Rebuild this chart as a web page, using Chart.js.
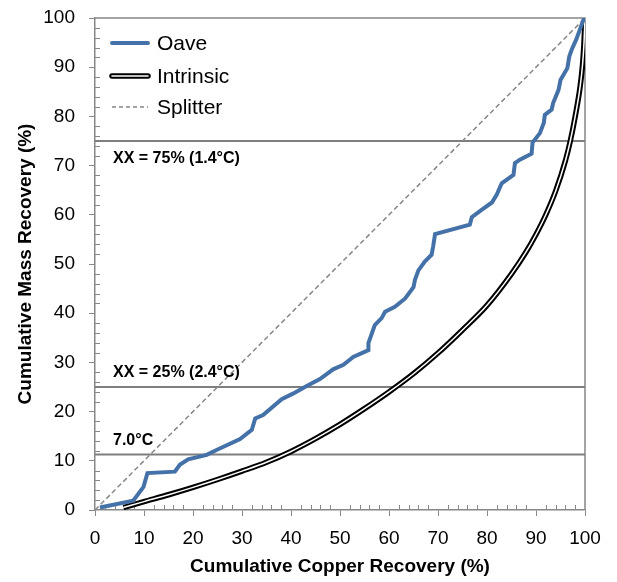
<!DOCTYPE html>
<html lang="en">
  <head>
    <meta charset="UTF-8" />
    <title>Cumulative Mass vs Copper Recovery</title>
    <script src="https://cdn.jsdelivr.net/npm/chart.js"></script>
    <style>
      body { margin: 0; background: #ffffff; }
    </style>
  </head>
  <body>
    <canvas id="recoveryChart" width="617" height="582"></canvas>
    <script>
      // Oave curve: cumulative copper recovery (x) vs cumulative mass recovery (y)
      const oaveCu = [1.0, 7.8, 9.9, 10.7, 16.3, 17.3, 19.0, 22.8, 24.8, 29.6, 32.0, 32.7, 34.3, 38.1, 40.5, 43.2, 45.9, 48.6, 50.7, 52.7, 55.8, 55.8, 57.1, 58.5, 59.2, 61.2, 63.3, 65.0, 65.3, 66.0, 67.3, 68.7, 69.0, 69.4, 76.5, 76.9, 78.9, 81.0, 82.0, 83.0, 85.4, 85.7, 86.7, 89.1, 89.3, 90.8, 91.6, 91.8, 93.2, 93.5, 94.6, 95.0, 96.4, 96.8, 97.3, 98.2, 99.7, 100];
      const oaveMass = [0.5, 1.9, 4.7, 7.5, 7.8, 9.2, 10.3, 11.2, 12.2, 14.4, 16.3, 18.6, 19.3, 22.5, 23.7, 25.2, 26.6, 28.6, 29.5, 31.1, 32.5, 33.9, 37.6, 39.0, 40.3, 41.3, 43.0, 45.3, 46.8, 48.7, 50.5, 51.9, 53.5, 56.1, 58.0, 59.5, 61.0, 62.5, 64.1, 66.4, 68.1, 70.5, 71.2, 72.4, 74.7, 76.6, 78.7, 80.3, 81.4, 82.7, 85.4, 87.4, 89.8, 92.2, 93.6, 95.6, 99.7, 100];

      // Intrinsic (ideal sorting) curve
      const intrinsicCu = [5.8, 10, 15, 20, 25, 30, 35, 40, 45, 50, 55, 60, 65, 70, 75, 80, 85, 88, 90, 92, 94, 96, 97, 98, 99, 99.5, 99.8, 100];
      const intrinsicMass = [0.5, 1.7, 3.1, 4.6, 6.2, 7.9, 9.7, 11.9, 14.5, 17.4, 20.6, 24.0, 27.7, 31.9, 36.6, 41.6, 48.0, 52.5, 56.0, 60.0, 64.8, 71.0, 75.0, 80.0, 86.0, 90.5, 95.0, 100];

      // Random splitter reference
      const splitterCu = [0, 100];
      const splitterMass = [0, 100];

      // Threshold lines and their captions
      const thresholdLevels = [75, 25, 11.3];
      const thresholdLabels = ["XX = 75% (1.4\u00b0C)", "XX = 25% (2.4\u00b0C)", "7.0\u00b0C"];

      const axisTicks = [0, 10, 20, 30, 40, 50, 60, 70, 80, 90, 100];

      const blue = "#4472a8";
      const grey = "#878787";
      const fontFamily = "'Liberation Sans', Arial, sans-serif";

      const toPoints = (xs, ys) => xs.map((v, i) => ({ x: v, y: ys[i] }));

      const thresholdSets = thresholdLevels.map((lvl) => ({
        label: "threshold",
        data: [{ x: 0, y: lvl }, { x: 100, y: lvl }],
        borderColor: "#7f7f7f",
        borderWidth: 2,
        pointRadius: 0,
        order: 5,
      }));

      const overlay = {
        id: "overlay",
        beforeDatasetsDraw(chart) {
          const { ctx, chartArea: a, scales } = chart;
          ctx.save();
          ctx.strokeStyle = grey;
          ctx.lineWidth = 1.5;
          ctx.beginPath();
          ctx.moveTo(a.left, a.top);
          ctx.lineTo(a.right, a.top);
          ctx.lineTo(a.right, a.bottom);
          ctx.stroke();
          // minor ticks pointing into the plot
          ctx.lineWidth = 1;
          ctx.beginPath();
          for (let v = 2; v < 100; v += 2) {
            if (v % 10 === 0) continue;
            const px = Math.round(scales.x.getPixelForValue(v)) + 0.5;
            ctx.moveTo(px, a.bottom);
            ctx.lineTo(px, a.bottom - 5);
            const py = Math.round(scales.y.getPixelForValue(v)) + 0.5;
            ctx.moveTo(a.left, py);
            ctx.lineTo(a.left + 5, py);
          }
          ctx.stroke();
          ctx.restore();
        },
        afterDatasetsDraw(chart) {
          const { ctx, chartArea: a, scales } = chart;
          ctx.save();
          // threshold captions
          ctx.fillStyle = "#000";
          ctx.font = "bold 16px " + fontFamily;
          ctx.textBaseline = "middle";
          thresholdLevels.forEach((lvl, i) => {
            const py = scales.y.getPixelForValue(lvl) + (i === 0 ? 18 : -14);
            ctx.fillText(thresholdLabels[i], a.left + 18, py);
          });

          // legend inside the plot, top left
          const x0 = a.left + 17, x1 = a.left + 53, tx = a.left + 62;
          const rows = [a.top + 25, a.top + 58, a.top + 89];
          ctx.lineCap = "round";
          ctx.strokeStyle = blue;
          ctx.lineWidth = 4;
          ctx.beginPath(); ctx.moveTo(x0, rows[0]); ctx.lineTo(x1, rows[0]); ctx.stroke();
          ctx.strokeStyle = "#000";
          ctx.lineWidth = 5.5;
          ctx.beginPath(); ctx.moveTo(x0, rows[1]); ctx.lineTo(x1, rows[1]); ctx.stroke();
          ctx.strokeStyle = "#fff";
          ctx.lineWidth = 1.5;
          ctx.beginPath(); ctx.moveTo(x0, rows[1]); ctx.lineTo(x1, rows[1]); ctx.stroke();
          ctx.lineCap = "butt";
          ctx.strokeStyle = grey;
          ctx.lineWidth = 1.5;
          ctx.setLineDash([4, 3]);
          ctx.beginPath(); ctx.moveTo(x0, rows[2]); ctx.lineTo(x1, rows[2]); ctx.stroke();
          ctx.setLineDash([]);
          ctx.font = "21px " + fontFamily;
          ctx.fillStyle = "#000";
          ["Oave", "Intrinsic", "Splitter"].forEach((t, i) => ctx.fillText(t, tx, rows[i] + 1));
          ctx.restore();
        },
      };

      const axisCommon = {
        type: "linear",
        min: 0,
        max: 100,
        afterBuildTicks: (scale) => {
          scale.ticks = axisTicks.map((v) => ({ value: v }));
        },
        grid: { drawOnChartArea: false, drawTicks: true, tickLength: 6, color: grey },
        border: { color: grey, width: 1.5 },
        ticks: { color: "#000", font: { family: fontFamily, size: 19 } },
        title: { display: true, color: "#000", font: { family: fontFamily, size: 19, weight: "bold" } },
      };

      new Chart(document.getElementById("recoveryChart"), {
        type: "line",
        data: {
          datasets: [
            {
              label: "Oave",
              data: toPoints(oaveCu, oaveMass),
              borderColor: blue,
              borderWidth: 4,
              pointRadius: 0,
              tension: 0,
              order: 0,
            },
            {
              label: "Intrinsic",
              data: toPoints(intrinsicCu, intrinsicMass),
              borderColor: "#ffffff",
              borderWidth: 1.5,
              pointRadius: 0,
              cubicInterpolationMode: "monotone",
              order: 1,
            },
            {
              label: "Intrinsic outline",
              data: toPoints(intrinsicCu, intrinsicMass),
              borderColor: "#000000",
              borderWidth: 5.5,
              pointRadius: 0,
              cubicInterpolationMode: "monotone",
              order: 2,
            },
            {
              label: "Splitter",
              data: toPoints(splitterCu, splitterMass),
              borderColor: grey,
              borderWidth: 1.5,
              borderDash: [5, 3],
              pointRadius: 0,
              order: 3,
            },
            ...thresholdSets,
          ],
        },
        options: {
          responsive: false,
          animation: false,
          layout: { padding: { top: 18, right: 32, left: 0, bottom: 0 } },
          plugins: { legend: { display: false }, tooltip: { enabled: false } },
          scales: {
            x: {
              ...axisCommon,
              position: "bottom",
              afterFit: (s) => {
                s.height = 72;
                s.paddingLeft = 0;
                s.paddingRight = 0;
              },
              ticks: { ...axisCommon.ticks, padding: 11, maxRotation: 0 },
              title: { ...axisCommon.title, text: "Cumulative Copper Recovery (%)", padding: { top: 0, bottom: 4 } },
            },
            y: {
              ...axisCommon,
              position: "left",
              afterFit: (s) => {
                s.width = 95;
                s.paddingTop = 0;
                s.paddingBottom = 0;
              },
              ticks: { ...axisCommon.ticks, padding: 14 },
              title: { ...axisCommon.title, text: "Cumulative Mass Recovery (%)", padding: { top: 14, bottom: 0 } },
            },
          },
        },
        plugins: [overlay],
      });
    </script>
  </body>
</html>
